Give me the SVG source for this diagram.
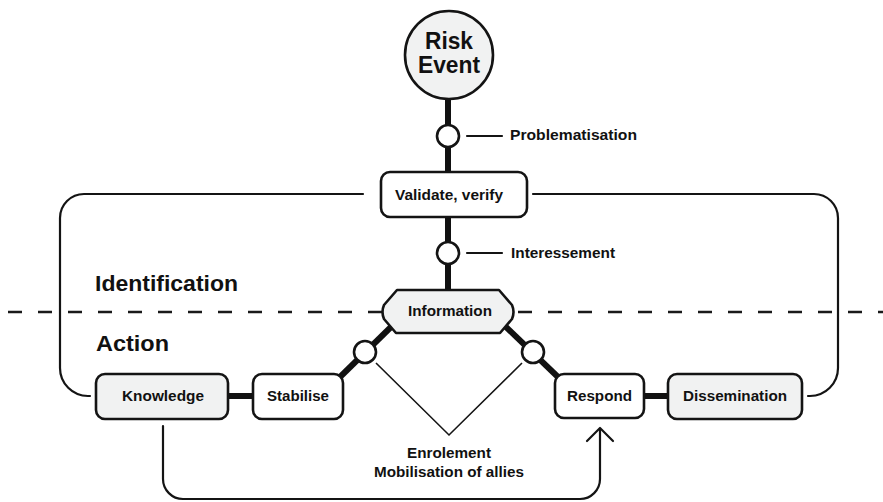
<svg xmlns="http://www.w3.org/2000/svg" width="883" height="502" viewBox="0 0 883 502">
  <defs>
    <style>
      .thin { fill: none; stroke: #141414; stroke-width: 2.2; stroke-linecap: round; stroke-linejoin: round; }
      .hair { fill: none; stroke: #141414; stroke-width: 1.6; }
      .thick { fill: none; stroke: #111; stroke-width: 6; }
      .dash { fill: none; stroke: #1a1a1a; stroke-width: 2.6; stroke-dasharray: 14 16; }
      .box { fill: #ffffff; stroke: #141414; stroke-width: 2.6; }
      .box.grey { fill: #f1f2f2; }
      .dot { fill: #ffffff; stroke: #141414; stroke-width: 2.6; }
      text { font-family: "Liberation Sans", Arial, sans-serif; font-weight: bold; fill: #111; }
      .lbl { font-size: 15px; }
      .big { font-size: 21.5px; }
      .title { font-size: 23px; }
    </style>
  </defs>

  <rect width="883" height="502" fill="#ffffff"/>

  <!-- divider between the two phases -->
  <line class="dash" x1="8" y1="312" x2="883" y2="312"/>

  <!-- connectors -->
  <g id="connectors">
    <!-- trunk -->
    <line class="thick" x1="448" y1="95" x2="448" y2="174"/>
    <line class="thick" x1="448" y1="215" x2="448" y2="292"/>
    <!-- diagonals from Information -->
    <line class="thick" x1="392" y1="326" x2="340" y2="377"/>
    <line class="thick" x1="505" y1="326" x2="558" y2="377"/>
    <!-- side links -->
    <line class="thick" x1="226" y1="396" x2="255" y2="396"/>
    <line class="thick" x1="642" y1="396" x2="670" y2="396"/>
    <!-- feedback loops -->
    <path class="thin" d="M363,194 H84 A24,24 0 0 0 60,218 V368 A28,28 0 0 0 88,396 H90"/>
    <path class="thin" d="M533,194 H814 A24,24 0 0 1 838,218 V368 A28,28 0 0 1 810,396 H808"/>
    <path class="thin" d="M163,426 V479 A20,20 0 0 0 183,499 H580 A20,20 0 0 0 600,479 V429"/>
    <path class="thin" d="M587,441 L600,428 L613,441"/>
    <!-- label leaders -->
    <line class="thin" x1="467" y1="136" x2="502" y2="136"/>
    <line class="thin" x1="467" y1="253" x2="502" y2="253"/>
    <path class="hair" d="M376,363 L449,435 L522,363"/>
  </g>

  <!-- junction dots -->
  <g id="dots">
    <circle class="dot" cx="448" cy="136" r="11"/>
    <circle class="dot" cx="448" cy="253" r="11"/>
    <circle class="dot" cx="365" cy="352" r="11"/>
    <circle class="dot" cx="533" cy="352" r="11"/>
  </g>

  <g id="risk-event">
    <circle class="box grey" cx="449" cy="55" r="44"/>
    <text class="title" x="425" y="49" textLength="48" lengthAdjust="spacingAndGlyphs">Risk</text>
    <text class="title" x="418" y="73" textLength="62" lengthAdjust="spacingAndGlyphs">Event</text>
  </g>

  <g id="validate">
    <rect class="box" x="381" y="172" width="146" height="45" rx="9"/>
    <text class="lbl" x="395" y="200" textLength="108" lengthAdjust="spacingAndGlyphs">Validate, verify</text>
  </g>

  <g id="information">
    <path class="box grey" d="M397,290 H499 L512,305 Q515,312 512,319 L500,333 H396 L384,319 Q381,312 384,305 Z" stroke-linejoin="round"/>
    <text class="lbl" x="408" y="316" textLength="84" lengthAdjust="spacingAndGlyphs" style="font-size:14.5px">Information</text>
  </g>

  <g id="knowledge">
    <rect class="box grey" x="96" y="374" width="132" height="45" rx="9"/>
    <text class="lbl" x="122" y="401" textLength="82" lengthAdjust="spacingAndGlyphs">Knowledge</text>
  </g>

  <g id="stabilise">
    <rect class="box" x="253" y="374" width="90" height="45" rx="9"/>
    <text class="lbl" x="267" y="401" textLength="62" lengthAdjust="spacingAndGlyphs">Stabilise</text>
  </g>

  <g id="respond">
    <rect class="box" x="555" y="374" width="89" height="44" rx="9"/>
    <text class="lbl" x="567" y="401" textLength="65" lengthAdjust="spacingAndGlyphs">Respond</text>
  </g>

  <g id="dissemination">
    <rect class="box grey" x="668" y="374" width="134" height="45" rx="9"/>
    <text class="lbl" x="683" y="401" textLength="104" lengthAdjust="spacingAndGlyphs">Dissemination</text>
  </g>

  <!-- annotations -->
  <g id="labels">
    <text class="lbl" x="510" y="140" textLength="127" lengthAdjust="spacingAndGlyphs">Problematisation</text>
    <text class="lbl" x="511" y="258" textLength="104" lengthAdjust="spacingAndGlyphs">Interessement</text>
    <text class="big" x="95" y="291" textLength="143" lengthAdjust="spacingAndGlyphs">Identification</text>
    <text class="big" x="96" y="351" textLength="73" lengthAdjust="spacingAndGlyphs">Action</text>
    <text class="lbl" x="407" y="458" textLength="84" lengthAdjust="spacingAndGlyphs">Enrolement</text>
    <text class="lbl" x="374" y="477" textLength="150" lengthAdjust="spacingAndGlyphs">Mobilisation of allies</text>
  </g>
</svg>
